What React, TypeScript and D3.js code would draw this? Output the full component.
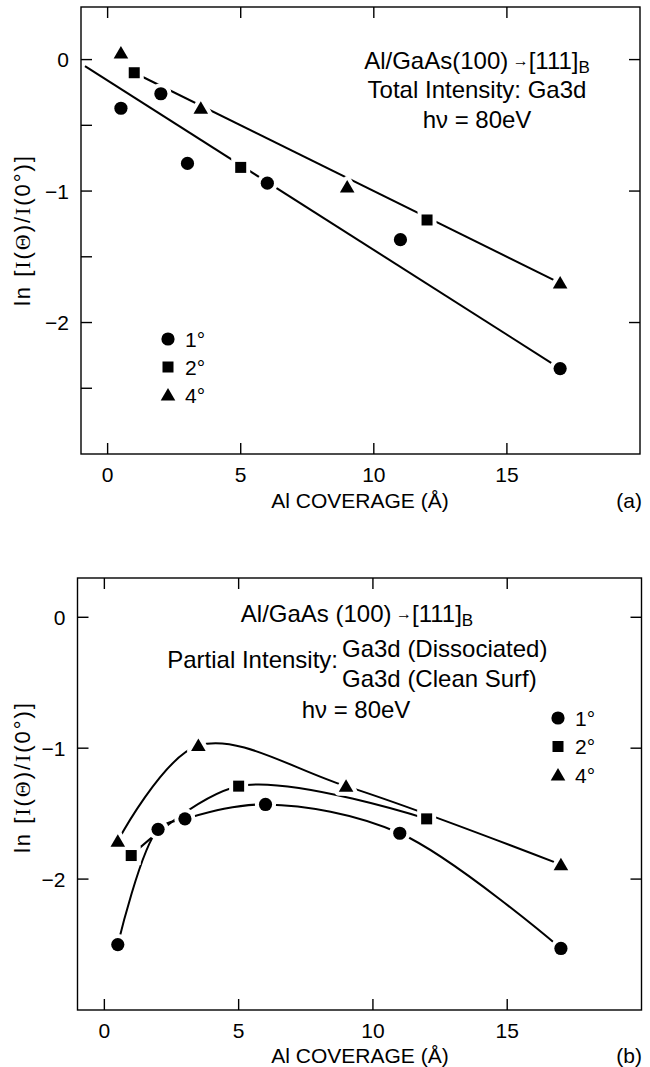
import React from 'react';
import * as d3 from 'd3';

// ---------- data ----------
const xTicks = [0, 5, 10, 15];
const yTicksMajor = [0, -1, -2];
const yTicksMinorA = [-0.5, -1.5, -2.5];
const yTickLabels = ['0', '−1', '−2'];
const legendLabels = ['1°', '2°', '4°'];

// panel (a) — total intensity
const aX1 = [0.5, 2, 3, 6, 11, 17];
const aY1 = [-0.37, -0.26, -0.79, -0.94, -1.37, -2.35];
const aX2 = [1, 5, 12];
const aY2 = [-0.1, -0.82, -1.22];
const aX4 = [0.5, 3.5, 9, 17];
const aY4 = [0.05, -0.37, -0.97, -1.7];
const aFitLowX = [-0.85, 17];
const aFitLowY = [-0.05, -2.35];
const aFitHighX = [1, 17];
const aFitHighY = [-0.1, -1.7];

// panel (b) — partial intensity
const bX1 = [0.5, 2, 3, 6, 11, 17];
const bY1 = [-2.5, -1.62, -1.54, -1.43, -1.65, -2.53];
const bX2 = [1, 5, 12];
const bY2 = [-1.82, -1.29, -1.54];
const bX4 = [0.5, 3.5, 9, 17];
const bY4 = [-1.71, -0.98, -1.29, -1.89];

const FONT = '"Liberation Sans", Arial, Helvetica, sans-serif';
const SERIF = '"Liberation Serif", "Times New Roman", serif';

type Shape = 'circle' | 'square' | 'triangle';

function markerEl(shape: Shape, x: number, y: number, key: string, halo: boolean) {
  const fill = halo ? '#fff' : '#000';
  const stroke = halo ? '#fff' : 'none';
  const sw = halo ? 8 : 0;
  if (shape === 'circle') return <circle key={key} cx={x} cy={y} r={6.6} fill={fill} stroke={stroke} strokeWidth={sw} />;
  if (shape === 'square') return <rect key={key} x={x - 5.5} y={y - 5.5} width={11} height={11} fill={fill} stroke={stroke} strokeWidth={sw} />;
  return <path key={key} d={`M${x},${y - 7}L${x + 7.3},${y + 5.5}L${x - 7.3},${y + 5.5}Z`} fill={fill} stroke={stroke} strokeWidth={sw} strokeLinejoin="round" />;
}

const zip = (xs: number[], ys: number[]) => xs.map((x, i) => [x, ys[i]] as [number, number]);

interface PanelProps {
  x: d3.ScaleLinear<number, number>;
  y: d3.ScaleLinear<number, number>;
  minorLeft: number[];
  series: { shape: Shape; xs: number[]; ys: number[] }[];
  lines: { pts: [number, number][]; curved: boolean }[];
}

function Panel({ x, y, minorLeft, series, lines }: PanelProps) {
  const [x0, x1] = x.range();
  const [yb, yt] = y.range();
  const T = 11;
  const straight = d3.line<[number, number]>().x(d => x(d[0])).y(d => y(d[1]));
  const curved = d3.line<[number, number]>().x(d => x(d[0])).y(d => y(d[1])).curve(d3.curveCatmullRom.alpha(0.5));
  const tickLabelX = x0 - 12;
  return (
    <g>
      <rect x={x0} y={yt} width={x1 - x0} height={yb - yt} fill="none" stroke="#000" strokeWidth={1.4} />
      {xTicks.map(t => (
        <g key={'xt' + t}>
          <line x1={x(t)} x2={x(t)} y1={yb} y2={yb - T} stroke="#000" strokeWidth={1.4} />
          <line x1={x(t)} x2={x(t)} y1={yt} y2={yt + T} stroke="#000" strokeWidth={1.4} />
          <text x={x(t)} y={yb + 28} textAnchor="middle" fontSize={21} fontFamily={FONT}>{t}</text>
        </g>
      ))}
      {yTicksMajor.map((t, i) => (
        <g key={'yt' + t}>
          <line x1={x0} x2={x0 + T} y1={y(t)} y2={y(t)} stroke="#000" strokeWidth={1.4} />
          <line x1={x1} x2={x1 - T} y1={y(t)} y2={y(t)} stroke="#000" strokeWidth={1.4} />
          <text x={tickLabelX} y={y(t)} dy="0.36em" textAnchor="end" fontSize={21} fontFamily={FONT}>{yTickLabels[i]}</text>
        </g>
      ))}
      {minorLeft.map(t => (
        <line key={'ym' + t} x1={x0} x2={x0 + T} y1={y(t)} y2={y(t)} stroke="#000" strokeWidth={1.4} />
      ))}
      {lines.map((l, i) => (
        <path key={'l' + i} d={(l.curved ? curved : straight)(l.pts) || ''} fill="none" stroke="#000" strokeWidth={2} />
      ))}
      {series.map((s, si) => s.xs.map((v, i) => markerEl(s.shape, x(v), y(s.ys[i]), `h${si}-${i}`, true)))}
      {series.map((s, si) => s.xs.map((v, i) => markerEl(s.shape, x(v), y(s.ys[i]), `m${si}-${i}`, false)))}
    </g>
  );
}

function Legend({ cx, cys }: { cx: number; cys: number[] }) {
  const shapes: Shape[] = ['circle', 'square', 'triangle'];
  return (
    <g>
      {shapes.map((s, i) => (
        <g key={s}>
          {markerEl(s, cx, cys[i], 'lg' + i, false)}
          <text x={cx + 17} y={cys[i] + 7.5} fontSize={21} fontFamily={FONT}>{legendLabels[i]}</text>
        </g>
      ))}
    </g>
  );
}

function YTitle({ x, y }: { x: number; y: number }) {
  return (
    <text transform={`translate(${x},${y}) rotate(-90)`} textAnchor="middle" fontSize={22} fontFamily={FONT}
      textLength={150} lengthAdjust="spacing">
      ln [<tspan fontFamily={SERIF}>I</tspan>(<tspan fontFamily={SERIF}>Θ</tspan>)/<tspan fontFamily={SERIF}>I</tspan>(0°)]
    </text>
  );
}

function Title1({ x, y, text }: { x: number; y: number; text: string }) {
  return (
    <text x={x} y={y} textAnchor="middle" fontSize={24} fontFamily={FONT}>
      {text}<tspan fontSize={16} dy={-3}> →</tspan><tspan dy={3}>[111]</tspan><tspan fontSize={17} dy={4}>B</tspan>
    </text>
  );
}

export default function App() {
  const xa = d3.scaleLinear().domain([-1, 20]).range([81, 640]);
  const ya = d3.scaleLinear().domain([-3, 0.4]).range([454, 7]);
  const xb = d3.scaleLinear().domain([-1, 20]).range([77.5, 641.5]);
  const yb = d3.scaleLinear().domain([-3, 0.3]).range([1010, 578]);

  const seriesA = [
    { shape: 'circle' as Shape, xs: aX1, ys: aY1 },
    { shape: 'square' as Shape, xs: aX2, ys: aY2 },
    { shape: 'triangle' as Shape, xs: aX4, ys: aY4 },
  ];
  const seriesB = [
    { shape: 'circle' as Shape, xs: bX1, ys: bY1 },
    { shape: 'square' as Shape, xs: bX2, ys: bY2 },
    { shape: 'triangle' as Shape, xs: bX4, ys: bY4 },
  ];

  return (
    <svg width={650} height={1067} style={{ position: 'absolute', left: 0, top: 0, background: '#fff' }}>
      <rect width={650} height={1067} fill="#fff" />
      {/* panel (a) */}
      <Panel
        x={xa}
        y={ya}
        minorLeft={yTicksMinorA}
        series={seriesA}
        lines={[
          { pts: zip(aFitLowX, aFitLowY), curved: false },
          { pts: zip(aFitHighX, aFitHighY), curved: false },
        ]}
      />
      <Title1 x={477} y={69} text="Al/GaAs(100)" />
      <text x={477} y={98} textAnchor="middle" fontSize={24} fontFamily={FONT}>Total Intensity: Ga3d</text>
      <text x={477} y={128} textAnchor="middle" fontSize={24} fontFamily={FONT}>hν = 80eV</text>
      <Legend cx={168} cys={[339, 367, 395]} />
      <YTitle x={30} y={231} />
      <text x={360} y={508} textAnchor="middle" fontSize={21} fontFamily={FONT}>Al COVERAGE (Å)</text>
      <text x={642} y={508} textAnchor="end" fontSize={21} fontFamily={FONT}>(a)</text>

      {/* panel (b) */}
      <Panel
        x={xb}
        y={yb}
        minorLeft={[]}
        series={seriesB}
        lines={[
          { pts: zip(bX1, bY1), curved: true },
          { pts: zip(bX2, bY2), curved: true },
          { pts: zip(bX4, bY4), curved: true },
        ]}
      />
      <Title1 x={357} y={622} text="Al/GaAs (100)" />
      <text x={338} y={668} textAnchor="end" fontSize={24} fontFamily={FONT}>Partial Intensity:</text>
      <text x={342} y={657} fontSize={24} fontFamily={FONT}>Ga3d (Dissociated)</text>
      <text x={342} y={687} fontSize={24} fontFamily={FONT}>Ga3d (Clean Surf)</text>
      <text x={356} y={718} textAnchor="middle" fontSize={24} fontFamily={FONT}>hν = 80eV</text>
      <Legend cx={558} cys={[718, 746.5, 775]} />
      <YTitle x={30} y={778} />
      <text x={360} y={1063} textAnchor="middle" fontSize={21} fontFamily={FONT}>Al COVERAGE (Å)</text>
      <text x={642} y={1063} textAnchor="end" fontSize={21} fontFamily={FONT}>(b)</text>
    </svg>
  );
}
